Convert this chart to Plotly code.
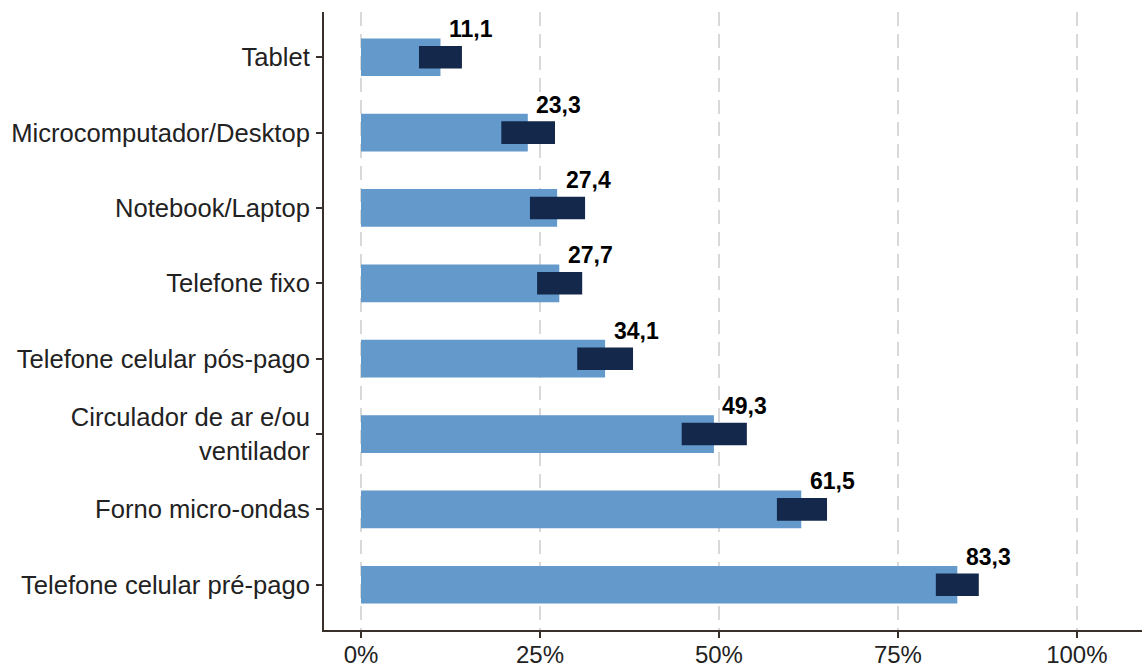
import plotly.graph_objects as go

# Share of households owning each item (%), with 95% confidence bounds
itens = [
    "Tablet",
    "Microcomputador/Desktop",
    "Notebook/Laptop",
    "Telefone fixo",
    "Telefone celular pós-pago",
    "Circulador de ar e/ou<br>ventilador",
    "Forno micro-ondas",
    "Telefone celular pré-pago",
]
valores = [11.1, 23.3, 27.4, 27.7, 34.1, 49.3, 61.5, 83.3]
ic_inf = [8.1, 19.6, 23.6, 24.6, 30.2, 44.8, 58.1, 80.3]
ic_sup = [14.1, 27.1, 31.3, 30.9, 38.0, 53.9, 65.1, 86.3]

x_ticks = [0, 25, 50, 75, 100]
x_tick_labels = ["0%", "25%", "50%", "75%", "100%"]

AZUL = "#6399CB"
MARINHO = "#14284B"
EIXO = "#3a302b"
FONTE = "Liberation Sans, Arial, sans-serif"

fig = go.Figure()

# Estimated share
fig.add_trace(go.Bar(
    y=itens, x=valores, orientation="h", width=0.5,
    marker=dict(color=AZUL, line=dict(width=0)),
    hoverinfo="skip", showlegend=False,
))

# Confidence interval as a thinner dark bar
fig.add_trace(go.Bar(
    y=itens,
    x=[s - i for i, s in zip(ic_inf, ic_sup)],
    base=ic_inf,
    orientation="h", width=0.3,
    marker=dict(color=MARINHO, line=dict(width=0)),
    hoverinfo="skip", showlegend=False,
))

# Value labels above the interval
for item, v in zip(itens, valores):
    fig.add_annotation(
        x=v, y=item, text=f"<b>{v:.1f}".replace(".", ",") + "</b>",
        showarrow=False, xanchor="center", yanchor="middle",
        xshift=31, yshift=28,
        font=dict(family=FONTE, size=23, color="#000000"),
    )

fig.update_layout(
    barmode="overlay",
    width=1142, height=667,
    margin=dict(l=324, r=0, t=12, b=37),
    plot_bgcolor="white", paper_bgcolor="white",
    font=dict(family=FONTE, size=25, color="#222222"),
    xaxis=dict(
        range=[-5.17, 109.1],
        tickvals=x_ticks, ticktext=x_tick_labels,
        showgrid=True, gridcolor="#d9d9d9", gridwidth=2, griddash="14px,8px",
        zeroline=False, automargin=False,
        showline=True, linecolor=EIXO, linewidth=2,
        ticks="outside", ticklen=6, tickwidth=2, tickcolor=EIXO,
        ticklabelstandoff=-4,
        tickfont=dict(family=FONTE, size=24, color="#222222"),
    ),
    yaxis=dict(
        categoryorder="array", categoryarray=list(reversed(itens)),
        range=[-0.6, 7.6],
        showgrid=False, zeroline=False, automargin=False,
        showline=True, linecolor=EIXO, linewidth=2,
        ticks="outside", ticklen=6, tickwidth=2, tickcolor=EIXO,
        ticklabelstandoff=1,
        tickfont=dict(family=FONTE, size=25.6, color="#222222"),
    ),
)

fig.write_html("out.html")
